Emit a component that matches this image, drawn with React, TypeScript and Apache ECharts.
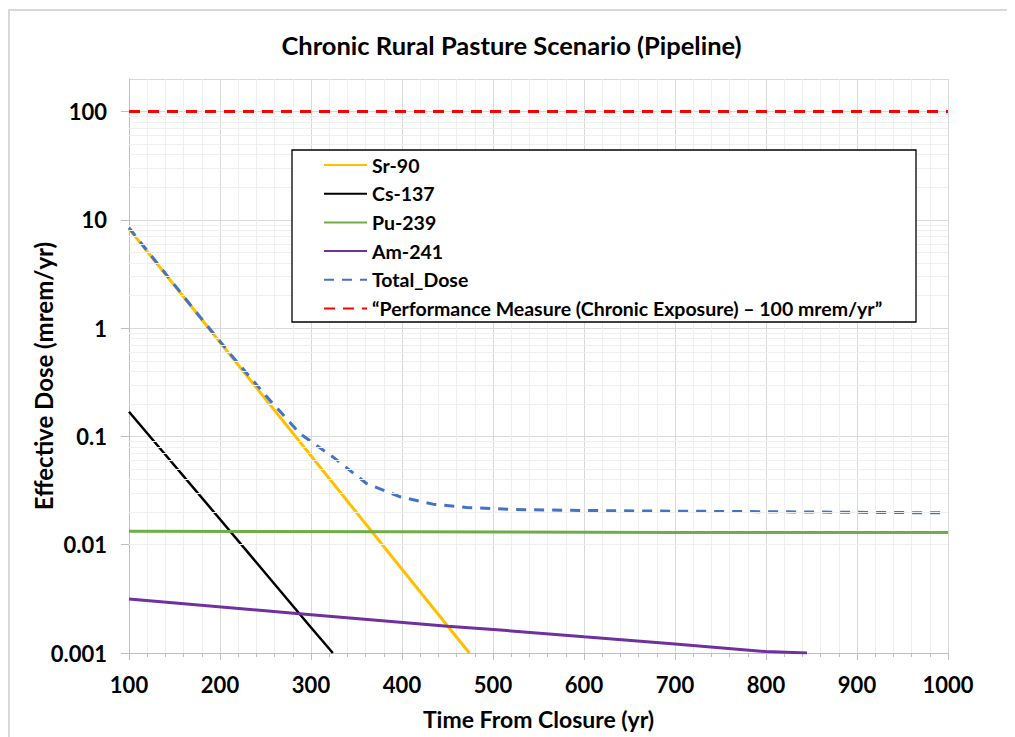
import React, { useEffect, useRef } from "react";
import * as echarts from "echarts";

const chartTitle = "Chronic Rural Pasture Scenario (Pipeline)";
const xAxisTitle = "Time From Closure (yr)";
const yAxisTitle = "Effective Dose (mrem/yr)";

const seriesNames = [
  "Sr-90",
  "Cs-137",
  "Pu-239",
  "Am-241",
  "Total_Dose",
  "\u201cPerformance Measure (Chronic Exposure) \u2013 100 mrem/yr\u201d",
];

const sr90Years = [100, 200, 300, 400, 474];
const sr90Dose = [8.28, 0.741, 0.0664, 0.00594, 0.001];

const cs137Years = [100, 200, 300, 324];
const cs137Dose = [0.169, 0.0172, 0.00172, 0.001];

const pu239Years = [100, 400, 700, 1000];
const pu239Dose = [0.0133, 0.01315, 0.0130, 0.01295];

const am241Years = [100, 284, 450, 508, 600, 700, 800, 845];
const am241Dose = [0.00315, 0.00232, 0.00177, 0.00163, 0.00141, 0.00121, 0.00103, 0.001];

const totalYears = [100, 178, 215, 251, 288, 324, 361, 398, 434, 471, 518, 600, 700, 800, 900, 1000];
const totalDose = [8.45, 1.27, 0.53, 0.235, 0.106, 0.0647, 0.0368, 0.0277, 0.0237, 0.0221, 0.0212, 0.0207, 0.0204, 0.0202, 0.0199, 0.0197];

const limitYears = [100, 1000];
const limitDose = [100, 100];

const yTickLabels = ["0.001", "0.01", "0.1", "1", "10", "100"];
const yMinorGrid = [
  0.002, 0.003, 0.004, 0.005, 0.006, 0.007, 0.008, 0.009,
  0.02, 0.03, 0.04, 0.05, 0.06, 0.07, 0.08, 0.09,
  0.2, 0.3, 0.4, 0.5, 0.6, 0.7, 0.8, 0.9,
  2, 3, 4, 5, 6, 7, 8, 9,
  20, 30, 40, 50, 60, 70, 80, 90,
];

const pair = (xs: number[], ys: number[]) => xs.map((x, i) => [x, ys[i]]);

const FONT = "Lato";

export default function App() {
  const ref = useRef<HTMLDivElement>(null);
  useEffect(() => {
    if (!ref.current) return;
    const chart = echarts.init(ref.current, undefined, { renderer: "svg" });
    const lineSeries = (name: string, data: number[][], color: string, width: number, dashed?: number[]) => ({
      name,
      type: "line",
      data,
      symbol: "none",
      showSymbol: false,
      smooth: false,
      clip: true,
      lineStyle: { color, width, type: dashed ? dashed : "solid", cap: "butt" },
      itemStyle: { color },
      z: 3,
    });
    chart.setOption({
      animation: false,
      backgroundColor: "#ffffff",
      title: {
        text: chartTitle,
        left: "center",
        top: 24,
        padding: 0,
        textStyle: { fontFamily: FONT, fontWeight: "bold", fontSize: 25.5, color: "#000" },
      },
      graphic: [
        {
          type: "rect",
          z: -10,
          silent: true,
          shape: { x: 1, y: 2, width: 1100, height: 1000 },
          style: { fill: "none", stroke: "#d9d9d9", lineWidth: 2 },
        },
        {
          type: "rect",
          z: 50,
          silent: true,
          shape: { x: 284, y: 142, width: 624, height: 172 },
          style: { fill: "#ffffff", stroke: "#000000", lineWidth: 1.3 },
        },
        {
          type: "text",
          z: 50,
          silent: true,
          x: 35,
          y: 368,
          rotation: Math.PI / 2,
          style: {
            text: yAxisTitle,
            fontFamily: FONT,
            fontWeight: "bold",
            fontSize: 24,
            fill: "#000",
            align: "center",
            verticalAlign: "middle",
          },
        },
      ],
      legend: {
        orient: "vertical",
        left: 315,
        top: 147,
        padding: 0,
        itemWidth: 43,
        itemHeight: 20,
        itemGap: 8.7,
        z: 60,
        data: seriesNames,
        itemStyle: { opacity: 0 },
        textStyle: { fontFamily: FONT, fontWeight: "bold", fontSize: 19.5, color: "#000", lineHeight: 20 },
      },
      grid: { left: 121, right: 67, top: 71, bottom: 84, containLabel: false },
      xAxis: {
        type: "value",
        min: 100,
        max: 1000,
        interval: 100,
        name: xAxisTitle,
        nameLocation: "middle",
        nameGap: 54,
        nameTextStyle: { fontFamily: FONT, fontWeight: "bold", fontSize: 23, color: "#000" },
        axisLine: { show: true, lineStyle: { color: "#bfbfbf", width: 1 } },
        axisTick: { show: true, length: 7, lineStyle: { color: "#bfbfbf" } },
        minorTick: { show: true, splitNumber: 5, length: 4, lineStyle: { color: "#bfbfbf" } },
        axisLabel: {
          margin: 20,
          fontFamily: FONT,
          fontWeight: "bold",
          fontSize: 22,
          color: "#000",
          formatter: (v: number) => String(v),
        },
        splitLine: { show: true, lineStyle: { color: "#d9d9d9", width: 1 } },
        minorSplitLine: { show: true, lineStyle: { color: "#efefef", width: 1 } },
      },
      yAxis: {
        type: "log",
        logBase: 10,
        min: 0.001,
        max: 200,
        axisLine: { show: true, lineStyle: { color: "#bfbfbf", width: 1 } },
        axisTick: { show: true, length: 8, lineStyle: { color: "#bfbfbf" } },
        axisLabel: {
          margin: 22,
          fontFamily: FONT,
          fontWeight: "bold",
          fontSize: 22,
          color: "#000",
          showMaxLabel: false,
          formatter: (v: number) => {
            const hit = yTickLabels.find((s) => Math.abs(Math.log10(Number(s)) - Math.log10(v)) < 1e-6);
            return hit ?? "";
          },
        },
        splitLine: { show: true, lineStyle: { color: "#d9d9d9", width: 1 } },
      },
      series: [
        {
          name: "minor-grid",
          type: "line",
          data: [],
          z: 1,
          silent: true,
          markLine: {
            silent: true,
            symbol: ["none", "none"],
            label: { show: false },
            animation: false,
            lineStyle: { color: "#efefef", width: 1, type: "solid" },
            data: yMinorGrid.map((v) => ({ yAxis: v })),
          },
        },
        lineSeries(seriesNames[0], pair(sr90Years, sr90Dose), "#ffc000", 3),
        lineSeries(seriesNames[1], pair(cs137Years, cs137Dose), "#000000", 2.5),
        lineSeries(seriesNames[2], pair(pu239Years, pu239Dose), "#70ad47", 3),
        lineSeries(seriesNames[3], pair(am241Years, am241Dose), "#7030a0", 3),
        lineSeries(seriesNames[4], pair(totalYears, totalDose), "#4472c4", 3, [10, 8]),
        lineSeries(seriesNames[5], pair(limitYears, limitDose), "#ff0000", 3, [11, 8]),
      ],
    });
    return () => chart.dispose();
  }, []);
  return <div ref={ref} style={{ width: 1007, height: 729 }} />;
}
